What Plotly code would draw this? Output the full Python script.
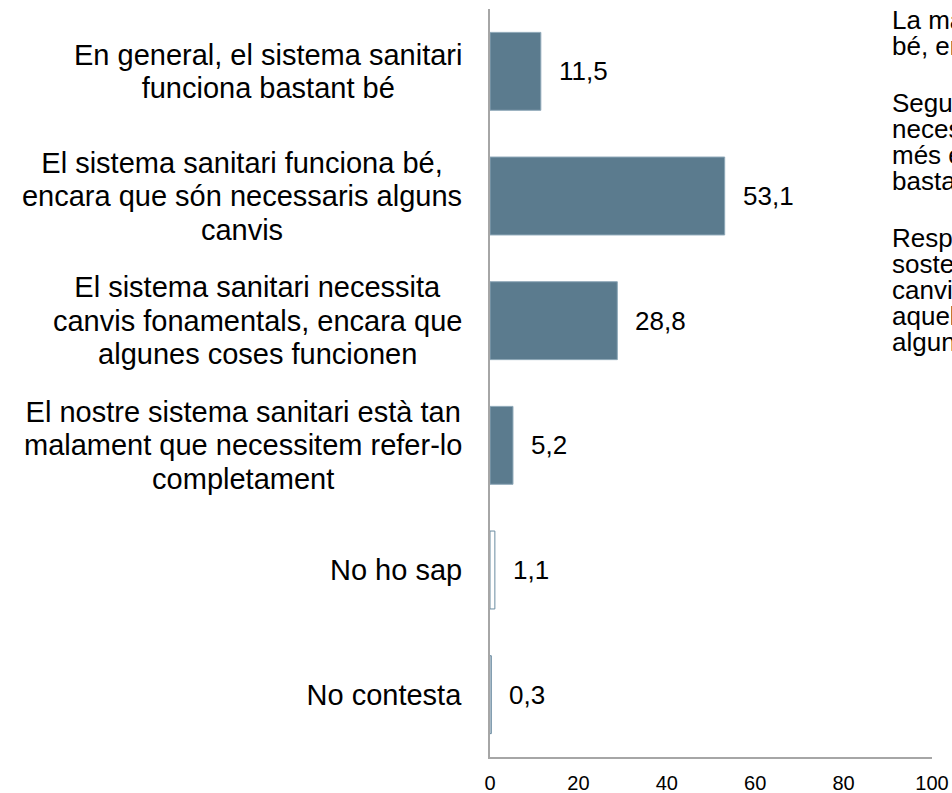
import plotly.graph_objects as go

# Survey answers about the health system (percentages)
categories = [
    "En general, el sistema sanitari<br>funciona bastant bé",
    "El sistema sanitari funciona bé,<br>encara que són necessaris alguns<br>canvis",
    "El sistema sanitari necessita<br>canvis fonamentals, encara que<br>algunes coses funcionen",
    "El nostre sistema sanitari està tan<br>malament que necessitem refer-lo<br>completament",
    "No ho sap",
    "No contesta",
]
values = [11.5, 53.1, 28.8, 5.2, 1.1, 0.3]
x_ticks = [0, 20, 40, 60, 80, 100]

# Commentary paragraphs shown to the right of the bars
notes = [
    ["La majoria considera que el sistema funciona",
     "bé, encara que calen alguns canvis."],
    ["Segueixen els que creuen que són",
     "necessaris canvis fonamentals i, molt",
     "més enrere, els que diuen que funciona",
     "bastant bé."],
    ["Respecte a l'anterior onada, es",
     "sostenen els que demanen alguns",
     "canvis i baixen lleugerament",
     "aquells que consideren que",
     "algunes coses funcionen."],
]

BAR = "#5b7b8e"
FONT = "Liberation Sans, Arial, sans-serif"

W, H = 952, 793
M_L, M_R, M_T, M_B = 490, 20, 9, 36
plot_h = H - M_T - M_B
plot_w = W - M_L - M_R

# Liberation Sans advance widths (1/1000 em), used to size centred label blocks
ADV = {
    " ": 278, ",": 278, "-": 333, ".": 278, "'": 191,
    "a": 556, "b": 556, "c": 500, "d": 556, "e": 556, "f": 278, "g": 556,
    "h": 556, "i": 222, "j": 222, "k": 500, "l": 222, "m": 833, "n": 556,
    "o": 556, "p": 556, "q": 556, "r": 333, "s": 500, "t": 278, "u": 556,
    "v": 500, "w": 722, "x": 500, "y": 500, "z": 500,
    "é": 556, "ó": 556, "à": 556, "E": 667, "N": 722, "L": 556,
}


def text_width(s, size):
    return sum(ADV.get(ch, 556) for ch in s) * size / 1000.0


fill = [BAR, BAR, BAR, BAR, "white", "white"]
edge = ["#8ea8b8", "#8ea8b8", "#8ea8b8", "#8ea8b8", "#6a8ba0", "#6a8ba0"]

fig = go.Figure(
    go.Bar(
        x=values,
        y=categories,
        orientation="h",
        marker=dict(color=fill, line=dict(color=edge, width=1)),
        hoverinfo="skip",
    )
)

annotations = []
# value labels just past each bar end
for cat, v in zip(categories, values):
    annotations.append(dict(
        x=v, y=cat, xref="x", yref="y",
        text=f"{v:.1f}".replace(".", ","),
        xanchor="left", yanchor="middle", xshift=16,
        showarrow=False, font=dict(size=26, color="#000000", family=FONT),
    ))

# category labels left of the axis: right-aligned blocks, lines centred
LABEL_SIZE = 29
LABEL_LINE = 33.5
for cat in categories:
    lines = cat.split("<br>")
    n = len(lines)
    block_w = max(text_width(l, LABEL_SIZE) for l in lines) + 2
    for i, line in enumerate(lines):
        annotations.append(dict(
            x=0, y=cat, xref="paper", yref="y",
            text=line, width=block_w, align="center",
            xanchor="right", yanchor="middle", xshift=-25,
            yshift=((n - 1) / 2 - i) * LABEL_LINE,
            showarrow=False,
            font=dict(size=LABEL_SIZE, color="#000000", family=FONT),
        ))

# commentary lines, tight line spacing
note_x = (893 - M_L) / plot_w
line_mids = [[20, 46], [103, 129, 155, 181], [238, 264, 290, 316, 342]]
for para, mids in zip(notes, line_mids):
    for line, ypx in zip(para, mids):
        annotations.append(dict(
            x=note_x, y=(H - M_B - ypx) / plot_h, xref="paper", yref="paper",
            text=line, xanchor="left", yanchor="middle", xshift=-3,
            showarrow=False, font=dict(size=26, color="#000000", family=FONT),
        ))

fig.update_layout(
    width=W, height=H,
    margin=dict(l=M_L, r=M_R, t=M_T, b=M_B, autoexpand=False),
    paper_bgcolor="white", plot_bgcolor="white",
    bargap=0.375,
    showlegend=False,
    annotations=annotations,
    font=dict(family=FONT, color="#000000"),
)
fig.update_xaxes(
    range=[0, 100], tickvals=x_ticks, ticktext=[str(t) for t in x_ticks],
    showgrid=False, zeroline=False, automargin=False,
    showline=True, linecolor="#a6a6a6", linewidth=2,
    ticks="", ticklabelstandoff=7,
    tickfont=dict(size=20, color="#000000", family=FONT),
)
fig.update_yaxes(
    autorange="reversed", showticklabels=False, automargin=False,
    showgrid=False, zeroline=False,
    showline=True, linecolor="#a6a6a6", linewidth=2, ticks="",
)

fig.write_html("out.html")
